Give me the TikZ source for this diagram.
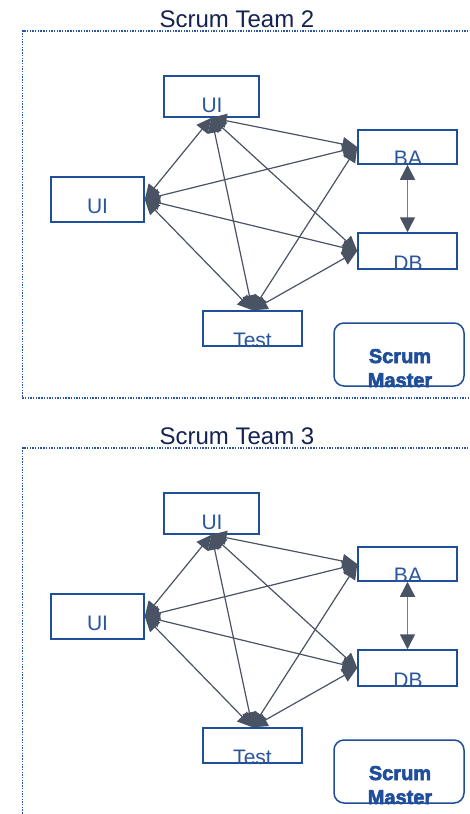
\documentclass[tikz,border=0pt]{standalone}
\usepackage{fontspec}
\setmainfont{Liberation Sans}
\newfontfamily\smfont[FakeBold=3]{Liberation Sans}
\usetikzlibrary{arrows.meta}
\definecolor{boxblue}{HTML}{1F4E9A}
\definecolor{txtblue}{HTML}{2A55A0}
\definecolor{navy}{HTML}{142350}
\definecolor{linkgray}{HTML}{4A5364}
\definecolor{pairgray}{HTML}{767C8A}
\definecolor{dotblue}{HTML}{2A55A5}

\begin{document}
\begin{tikzpicture}[x=1pt,y=-1pt,
  box/.style={draw=boxblue, line width=1.5pt, fill=white, inner sep=0pt},
  smbox/.style={box, rounded corners=10pt},
  lbl/.style={text=txtblue, inner sep=0pt, anchor=base, font=\fontsize{21}{24}\selectfont},
  smlbl/.style={text=boxblue, inner sep=0pt, anchor=base, font=\fontsize{20}{24}\smfont\bfseries},
  teamtitle/.style={text=navy, inner sep=0pt, anchor=base, font=\fontsize{24}{28}\selectfont},
  frame/.style={draw=dotblue, line width=1.9pt, dash pattern=on 1.4pt off 1.3pt},
  link/.style={draw=linkgray, line width=1.2pt,
    {Triangle[length=15pt,width=14pt]}-{Triangle[length=15pt,width=14pt]}},
  pair/.style={draw=pairgray, line width=1.5pt,
    {Triangle[length=15pt,width=15pt,color=linkgray]}-{Triangle[length=15pt,width=15pt,color=linkgray]}}
]
\useasboundingbox (0,0) rectangle (470,814);
\clip (0,0) rectangle (470,814);
\fill[white] (0,0) rectangle (470,814);

\foreach \n/\dy in {2/0,3/417}{
\begin{scope}[shift={(0,\dy)}]
  % team title and dotted frame (its right side runs off the page)
  \node[teamtitle] (title\n) at (237,27) {Scrum Team \n};
  \draw[frame] (490,31) -- (22.5,31) -- (22.5,398) -- (490,398);

  % member boxes
  \node[box, minimum width=95pt, minimum height=41pt] (uiT\n) at (211.5,96.5) {};
  \node[box, minimum width=93pt, minimum height=45pt] (uiL\n) at (97.5,199.5) {};
  \node[box, minimum width=99pt, minimum height=34pt] (ba\n) at (407.5,147) {};
  \node[box, minimum width=99pt, minimum height=36pt] (db\n) at (407.5,251) {};
  \node[box, minimum width=99pt, minimum height=35pt] (test\n) at (252.5,328.5) {};
  \node[smbox, minimum width=130pt, minimum height=63pt] (sm\n) at (399,354.5) {};

  % everyone talks to everyone
  \draw[link] (uiT\n.south) -- (uiL\n.east);
  \draw[link] (uiT\n.south) -- (ba\n.west);
  \draw[link] (uiT\n.south) -- (db\n.west);
  \draw[link] (uiT\n.south) -- (test\n.north);
  \draw[link] (uiL\n.east) -- (ba\n.west);
  \draw[link] (uiL\n.east) -- (db\n.west);
  \draw[link] (uiL\n.east) -- (test\n.north);
  \draw[link] (ba\n.west) -- (test\n.north);
  \draw[link] (db\n.west) -- (test\n.north);
  \draw[pair] (ba\n.south) -- (db\n.north);

  % box labels, set low in each box
  \node[lbl] (uiTt\n) at (212,112) {UI};
  \node[lbl] (uiLt\n) at (97.5,213) {UI};
  \node[lbl] (bat\n) at (408,165) {BA};
  \node[lbl] (dbt\n) at (408,270) {DB};
  \node[lbl] (testt\n) at (252.5,347) {Test};
  \node[smlbl] (smt\n) at (400,363) {Scrum};
  \node[smlbl] (smm\n) at (400,387) {Master};
\end{scope}
}
\end{tikzpicture}
\end{document}
